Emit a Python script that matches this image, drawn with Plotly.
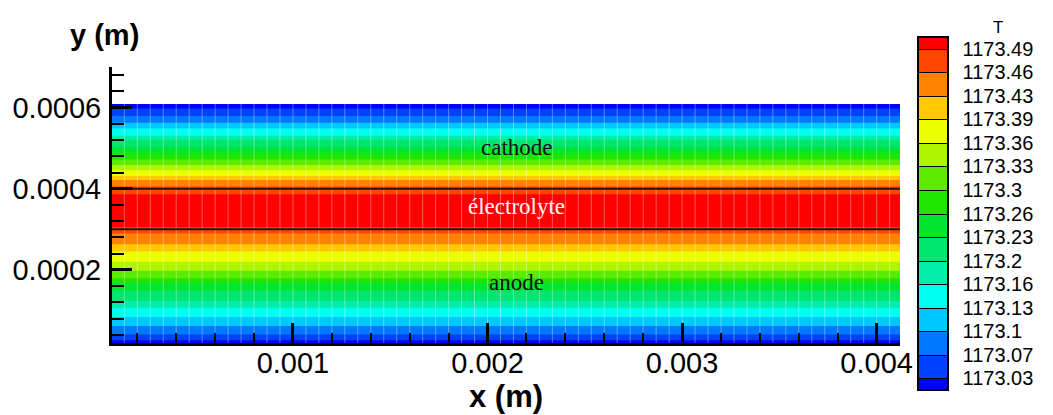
import plotly.graph_objects as go

# ---------------- data ----------------
# Temperature profile across the cell (function of y only), bottom -> top
Y_NODES = [0.000020, 0.000026, 0.000043, 0.000063, 0.000083, 0.000105, 0.000125,
           0.000149, 0.000167, 0.000181, 0.000199, 0.000219, 0.000243, 0.000265,
           0.000290, 0.000300, 0.000350, 0.000391, 0.000406, 0.000421, 0.000433,
           0.000446, 0.000458, 0.000470, 0.000488, 0.000502, 0.000520, 0.000532,
           0.000549, 0.000562, 0.000577, 0.000599, 0.000609]
T_NODES = [1173.02, 1173.03, 1173.07, 1173.10, 1173.13, 1173.16, 1173.20,
           1173.23, 1173.26, 1173.30, 1173.33, 1173.36, 1173.39, 1173.43,
           1173.46, 1173.49, 1173.52, 1173.49, 1173.46, 1173.43, 1173.39,
           1173.36, 1173.33, 1173.30, 1173.26, 1173.23, 1173.20, 1173.16,
           1173.13, 1173.10, 1173.07, 1173.03, 1173.02]
X_EXTENT = [0.0, 0.0042]               # length of the cell (m)
INTERFACES_Y = [0.0003, 0.0004]        # anode/electrolyte and electrolyte/cathode
MESH_DX = 0.0004 / 6                   # mesh column spacing
REGIONS = ["anode", "électrolyte", "cathode"]

# contour levels / colour bar
LEVEL_START = 1173.0325
LEVEL_STEP = 0.0329
LEVEL_LABELS = ["1173.03", "1173.07", "1173.1", "1173.13", "1173.16", "1173.2",
                "1173.23", "1173.26", "1173.3", "1173.33", "1173.36", "1173.39",
                "1173.43", "1173.46", "1173.49"]
BAND_COLORS = ["#0000FF", "#0040FF", "#0078FF", "#00C8FF", "#00FFEE", "#00EEAA",
               "#00E670", "#00E52E", "#1EE600", "#5AEB00", "#B0F500", "#EEFF00",
               "#FFC800", "#FF8200", "#FF4500", "#FF0000"]

X_TICKS = [0.001, 0.002, 0.003, 0.004]
X_TICK_LABELS = ["0.001", "0.002", "0.003", "0.004"]
Y_TICKS = [0.0002, 0.0004, 0.0006]
Y_TICK_LABELS = ["0.0002", "0.0004", "0.0006"]

# ---------------- derived ----------------
n_lev = len(LEVEL_LABELS)
levels = [LEVEL_START + k * LEVEL_STEP for k in range(n_lev)]
level_end = levels[-1]
colorscale = [[k / (len(BAND_COLORS) - 1), c] for k, c in enumerate(BAND_COLORS)]
Z = [[t] * len(X_EXTENT) for t in T_NODES]

SANS = "Liberation Sans, Arial, sans-serif"
SERIF = "Liberation Serif, Times New Roman, serif"

# plot-area geometry in pixels
L, R, T, B = 112, 900, 67, 343
PW, PH = R - L, B - T


def px(xp):
    return (xp - L) / PW


def py(yp):
    return (B - yp) / PH


fig = go.Figure()

# filled temperature contours
fig.add_trace(go.Contour(
    x=X_EXTENT, y=Y_NODES, z=Z, colorscale=colorscale, autocontour=False,
    contours=dict(start=LEVEL_START, end=level_end, size=LEVEL_STEP,
                  coloring="fill", showlines=False),
    line=dict(width=0, smoothing=0), showscale=False, hoverinfo="skip"))

# mesh columns (faint white lines)
mx, my = [], []
n_cols = int(round((X_EXTENT[1] - X_EXTENT[0]) / MESH_DX))
for i in range(n_cols + 1):
    xv = X_EXTENT[0] + i * MESH_DX
    mx += [xv, xv, None]
    my += [Y_NODES[0], Y_NODES[-1], None]
fig.add_trace(go.Scatter(x=mx, y=my, mode="lines",
                         line=dict(color="rgba(255,255,255,0.35)", width=1),
                         hoverinfo="skip", showlegend=False))

# interfaces
for yv in INTERFACES_Y:
    fig.add_trace(go.Scatter(x=X_EXTENT, y=[yv, yv], mode="lines",
                             line=dict(color="#2a1200", width=2),
                             hoverinfo="skip", showlegend=False))

# colour bar carrier (outside the visible range, only provides the legend bar)
fig.add_trace(go.Contour(
    x=[-1.0, -0.9], y=[-1.0, -0.9],
    z=[[T_NODES[0], max(T_NODES)], [T_NODES[0], max(T_NODES)]],
    colorscale=colorscale, autocontour=False,
    contours=dict(start=LEVEL_START, end=level_end, size=LEVEL_STEP,
                  coloring="fill", showlines=True),
    line=dict(color="black", width=1), hoverinfo="skip", showscale=True,
    colorbar=dict(
        thickness=30, thicknessmode="pixels", len=353, lenmode="pixels",
        x=px(918), xanchor="left", y=py(37), yanchor="top", xpad=0, ypad=0,
        outlinewidth=2, outlinecolor="black",
        tickmode="array", tickvals=levels, ticktext=LEVEL_LABELS,
        ticks="outside", ticklen=10, tickcolor="rgba(0,0,0,0)",
        tickfont=dict(family=SANS, size=20, color="black"))))

axis_common = dict(showline=True, linecolor="black", linewidth=3, ticks="inside",
                   ticklen=20, tickwidth=3, tickcolor="black", showgrid=False,
                   zeroline=False, tickmode="array",
                   tickfont=dict(family=SANS, size=29, color="black"))
fig.update_xaxes(range=[0.00007, 0.00412], tickvals=X_TICKS, ticktext=X_TICK_LABELS,
                 ticklabelstandoff=-8,
                 minor=dict(ticks="inside", ticklen=10, tickwidth=2, tickcolor="black",
                            tickmode="linear", tick0=0, dtick=0.0002, showgrid=False),
                 **axis_common)
fig.update_yaxes(range=[0.00002, 0.0007], tickvals=Y_TICKS, ticktext=Y_TICK_LABELS,
                 ticklabelstandoff=2,
                 minor=dict(ticks="inside", ticklen=12, tickwidth=2, tickcolor="black",
                            tickmode="linear", tick0=0, dtick=0.00004, showgrid=False),
                 **axis_common)

# region labels
label_y = {"anode": 0.00017, "électrolyte": 0.000356, "cathode": 0.000502}
label_col = {"anode": "#111111", "électrolyte": "#fff4f4", "cathode": "#111111"}
for name in REGIONS:
    fig.add_annotation(x=0.00215, y=label_y[name], text=name, showarrow=False,
                       xanchor="center", yanchor="middle",
                       font=dict(family=SERIF, size=23, color=label_col[name]))

# axis titles and colour bar title
fig.add_annotation(xref="paper", yref="paper", x=px(104), y=py(35),
                   xanchor="center", yanchor="middle",
                   text="<b>y (m)</b>", showarrow=False,
                   font=dict(family=SANS, size=29, color="black"))
fig.add_annotation(xref="paper", yref="paper", x=px(506), y=py(396),
                   xanchor="center", yanchor="middle",
                   text="<b>x (m)</b>", showarrow=False,
                   font=dict(family=SANS, size=31, color="black"))
fig.add_annotation(xref="paper", yref="paper", x=px(998), y=py(27),
                   xanchor="center", yanchor="middle",
                   text="T", showarrow=False,
                   font=dict(family=SANS, size=17, color="black"))

fig.update_layout(width=1053, height=415,
                  margin=dict(l=L, r=1053 - R, t=T, b=415 - B, autoexpand=False),
                  paper_bgcolor="white", plot_bgcolor="white", showlegend=False)

fig.write_html("out.html")
